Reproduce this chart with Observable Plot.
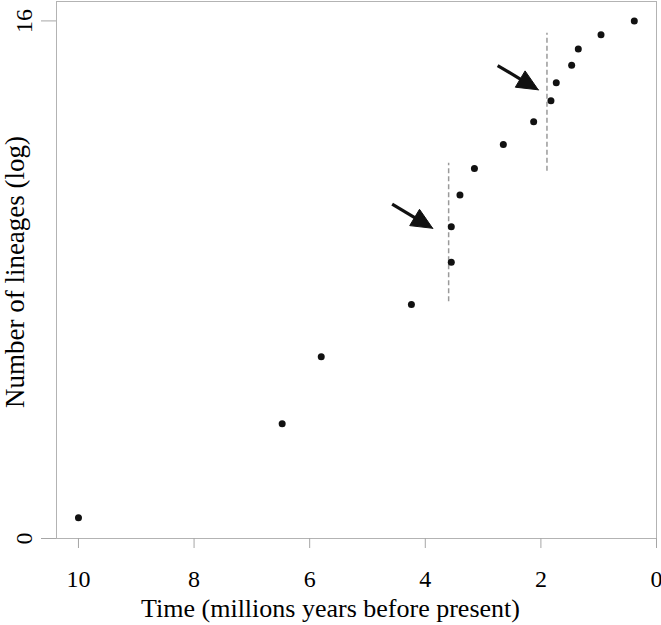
<!DOCTYPE html>
<html>
<head>
<meta charset="utf-8">
<script src="https://cdn.jsdelivr.net/npm/d3@7"></script>
<script src="https://cdn.jsdelivr.net/npm/@observablehq/plot@0.6"></script>
<style>
  html, body { margin: 0; padding: 0; background: #fff; }
  #chart { width: 661px; height: 625px; }
</style>
</head>
<body>
<div id="chart"></div>
<script>
// ---- data ----
const timeMa      = [10.0, 6.476, 5.80, 4.24, 3.55, 3.55, 3.40, 3.15, 2.65, 2.125, 1.826, 1.734, 1.468, 1.353, 0.96, 0.384];
const lineagesLog = [0.64, 3.545, 5.62, 7.23, 8.54, 9.64, 10.62, 11.44, 12.18, 12.88, 13.53, 14.09, 14.63, 15.13, 15.57, 16.0];

const xTicks = [10, 8, 6, 4, 2, 0];
const yTicks = [0, 16];

// dashed marker lines
const dashX  = [3.596, 1.895];
const dashY1 = [7.32, 11.35];
const dashY2 = [11.60, 15.62];

// arrows (start -> tip)
const arrowX1 = [4.573, 2.748];
const arrowY1 = [10.34, 14.62];
const arrowX2 = [3.873, 2.046];
const arrowY2 = [9.59, 13.87];

const xTitle = "Time (millions years before present)";
const yTitle = "Number of lineages (log)";

// ---- layout ----
const W = 661, H = 625;
const mL = 56, mR = 5, mT = 1, mB = 87;
const xDomain = [10.38, 0];
const yDomain = [0, 16.6];

const points = timeMa.map((t, i) => ({t, n: lineagesLog[i]}));
const dashes = dashX.map((x, i) => ({x, y1: dashY1[i], y2: dashY2[i]}));

// same linear mapping the plot uses, to build filled arrow heads
const sx = d3.scaleLinear().domain(xDomain).range([mL, W - mR]);
const sy = d3.scaleLinear().domain(yDomain).range([H - mB, mT]);
const headLen = 21, headHalf = 9.5;
const heads = [], shafts = [];
arrowX1.forEach((x1, i) => {
  const Sx = sx(x1), Sy = sy(arrowY1[i]);
  const Tx = sx(arrowX2[i]), Ty = sy(arrowY2[i]);
  const len = Math.hypot(Tx - Sx, Ty - Sy);
  const ux = (Tx - Sx) / len, uy = (Ty - Sy) / len;
  const nx = -uy, ny = ux;
  const Bx = Tx - headLen * ux, By = Ty - headLen * uy;
  const verts = [[Tx, Ty], [Bx + headHalf * nx, By + headHalf * ny], [Bx - headHalf * nx, By - headHalf * ny], [Tx, Ty]];
  verts.forEach(([px, py]) => heads.push({id: i, x: sx.invert(px), y: sy.invert(py)}));
  const Ex = Tx - (headLen - 3) * ux, Ey = Ty - (headLen - 3) * uy;
  shafts.push({x1, y1: arrowY1[i], x2: sx.invert(Ex), y2: sy.invert(Ey)});
});

const chart = Plot.plot({
  width: W,
  height: H,
  marginLeft: mL,
  marginRight: mR,
  marginTop: mT,
  marginBottom: mB,
  style: {fontFamily: "'Liberation Serif', 'Times New Roman', serif", background: "#fff", color: "#000"},
  x: {domain: xDomain},
  y: {domain: yDomain},
  marks: [
    Plot.frame({stroke: "#b3b3b3"}),
    Plot.axisX({ticks: xTicks, tickSize: 10, tickPadding: 21, fontSize: 24, stroke: "#a6a6a6", label: null, tickFormat: d => String(d)}),
    Plot.axisY({ticks: yTicks, tickSize: 15, tickFormat: () => "", stroke: "#a6a6a6", label: null}),
    Plot.text(yTicks, {y: d => d, text: d => String(d), frameAnchor: "left", textAnchor: "middle", lineAnchor: "middle", dx: -32, rotate: -90, fontSize: 24, fill: "#000"}),
    Plot.text([xTitle], {text: d => d, frameAnchor: "bottom", textAnchor: "middle", lineAnchor: "middle", dx: -26, dy: 70, fontSize: 26, fill: "#000"}),
    Plot.text([yTitle], {text: d => d, frameAnchor: "left", textAnchor: "middle", lineAnchor: "middle", dx: -41, dy: 2, rotate: -90, fontSize: 27, fill: "#000"}),
    Plot.ruleX(dashes, {x: "x", y1: "y1", y2: "y2", stroke: "#9a9a9a", strokeWidth: 1.5, strokeDasharray: "5,3"}),
    Plot.link(shafts, {x1: "x1", y1: "y1", x2: "x2", y2: "y2", stroke: "#111", strokeWidth: 3.2}),
    Plot.line(heads, {x: "x", y: "y", z: "id", fill: "#111", stroke: "#111", strokeWidth: 1, curve: "linear-closed"}),
    Plot.dot(points, {x: "t", y: "n", r: 3.5, fill: "#111", stroke: "none"})
  ]
});
document.getElementById("chart").appendChild(chart);
</script>
</body>
</html>
